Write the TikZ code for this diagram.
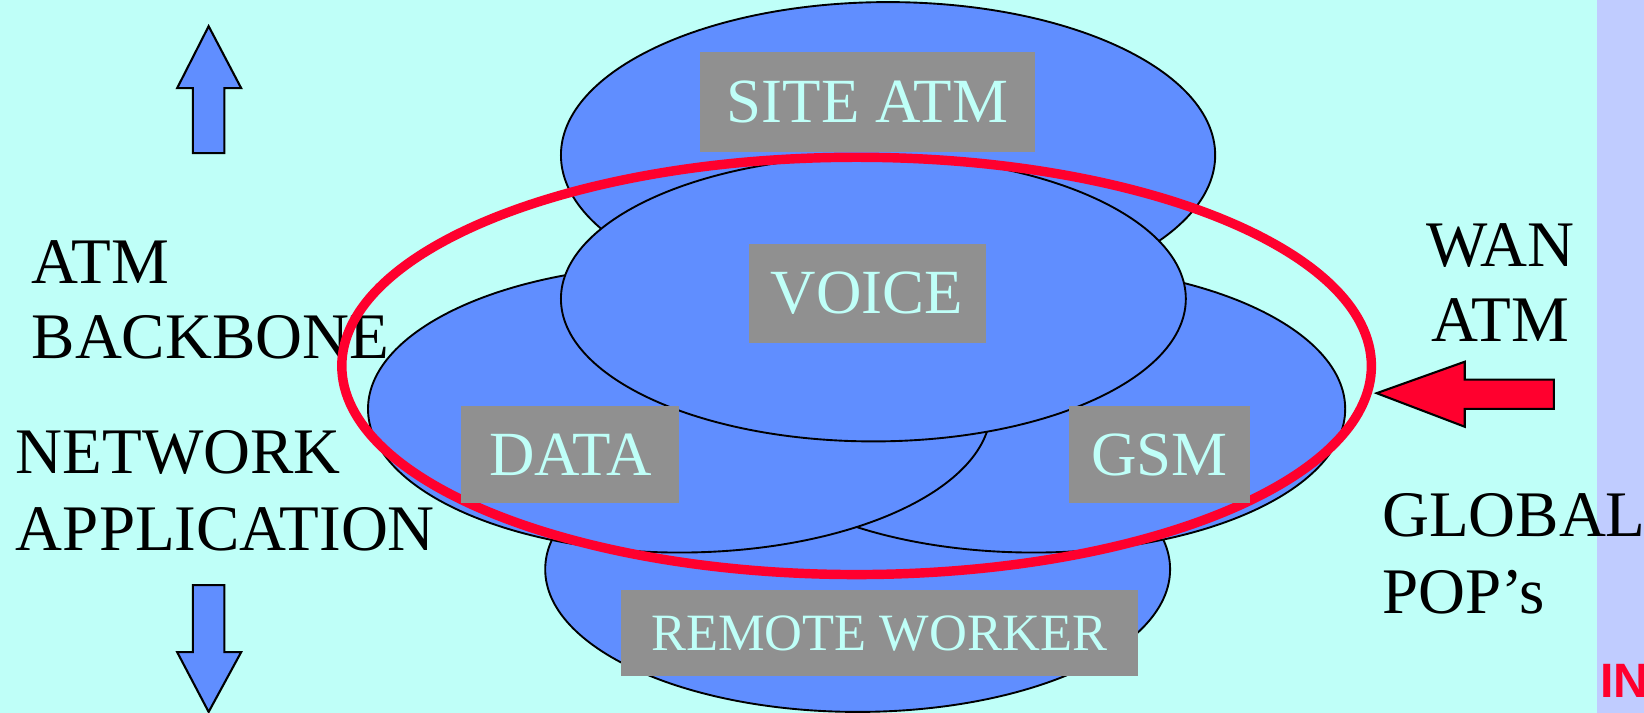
\documentclass[tikz,border=0pt]{standalone}
\usepackage{fontspec}
\setmainfont{Liberation Serif}
\newfontfamily\armfont{Liberation Sans}
\usetikzlibrary{shapes.geometric}
\definecolor{bgcyan}{RGB}{191,255,248}
\definecolor{lav}{RGB}{192,204,255}
\definecolor{blob}{RGB}{96,142,255}
\definecolor{lblgray}{RGB}{144,144,144}
\definecolor{hotred}{RGB}{255,0,46}
\tikzset{
  blobell/.style={ellipse, draw=black, line width=1.8pt, fill=blob, inner sep=0pt},
  lbl/.style={rectangle, fill=lblgray, text=bgcyan, inner sep=0pt, font=\fontsize{60}{60}\selectfont},
  side/.style={anchor=base west, inner sep=0pt, font=\fontsize{62}{62}\selectfont},
  bluearrow/.style={draw=black, line width=2pt, fill=blob, line join=miter},
}
\begin{document}
\begin{tikzpicture}[x=1pt,y=-1pt]
\useasboundingbox (0,0) rectangle (1568,680);
\fill[bgcyan] (0,0) rectangle (1568,680);
\fill[lav] (1523,0) rectangle (1568,680);
\node[anchor=base west, inner sep=0pt, text=hotred, font=\armfont\bfseries\fontsize{46}{46}\selectfont] (in) at (1526,665) {IN};

% ellipses
\node[blobell, minimum width=624pt, minimum height=292pt] (siteE) at (847,148) {};
\node[blobell, minimum width=596pt, minimum height=272pt] (remE) at (818,543) {};
\node[blobell, minimum width=594pt, minimum height=274pt] (gsmE) at (986,390) {};
\node[blobell, minimum width=594pt, minimum height=274pt] (dataE) at (648,390) {};
\node[blobell, minimum width=596pt, minimum height=272pt] (voiceE) at (833,285) {};

% side texts
\node[side] (t1) at (30,270) {ATM};
\node[side] (t2) at (30,342) {BACKBONE};
\node[side] (t3) at (15,452) {NETWORK};
\node[side] (t4) at (15,525) {APPLICATION};
\node[side, anchor=base] (t5) at (1431,254) {WAN};
\node[side, anchor=base] (t6) at (1431,326) {ATM};
\node[side] (t7) at (1318,512) {GLOBAL};
\node[side] (t8) at (1318,585) {POP’s};

% red ellipse
\node[ellipse, draw=hotred, line width=9pt, inner sep=0pt, minimum width=982pt, minimum height=398pt] (redE) at (817,349) {};

% labels
\node[lbl, minimum width=319pt, minimum height=95pt] (siteL) at (827.5,97.5) {SITE ATM};
\node[lbl, minimum width=226pt, minimum height=94pt] (voiceL) at (827,280) {VOICE};
\node[lbl, minimum width=208pt, minimum height=93pt] (dataL) at (544,433.5) {DATA};
\node[lbl, minimum width=172pt, minimum height=93pt] (gsmL) at (1106,433.5) {GSM};
\node[lbl, minimum width=493pt, minimum height=82pt, font=\fontsize{50}{50}\selectfont] (remL) at (838.5,604) {REMOTE WORKER};

% arrows
\draw[bluearrow] (199,25) -- (230,84) -- (214,84) -- (214,146) -- (184,146) -- (184,84) -- (169,84) -- cycle;
\draw[bluearrow] (199,679) -- (230,622) -- (214,622) -- (214,558) -- (184,558) -- (184,622) -- (169,622) -- cycle;
\draw[draw=black, line width=2pt, fill=hotred, line join=miter] (1313,375) -- (1397,345) -- (1397,362) -- (1482,362) -- (1482,390) -- (1397,390) -- (1397,407) -- cycle;
\end{tikzpicture}
\end{document}
